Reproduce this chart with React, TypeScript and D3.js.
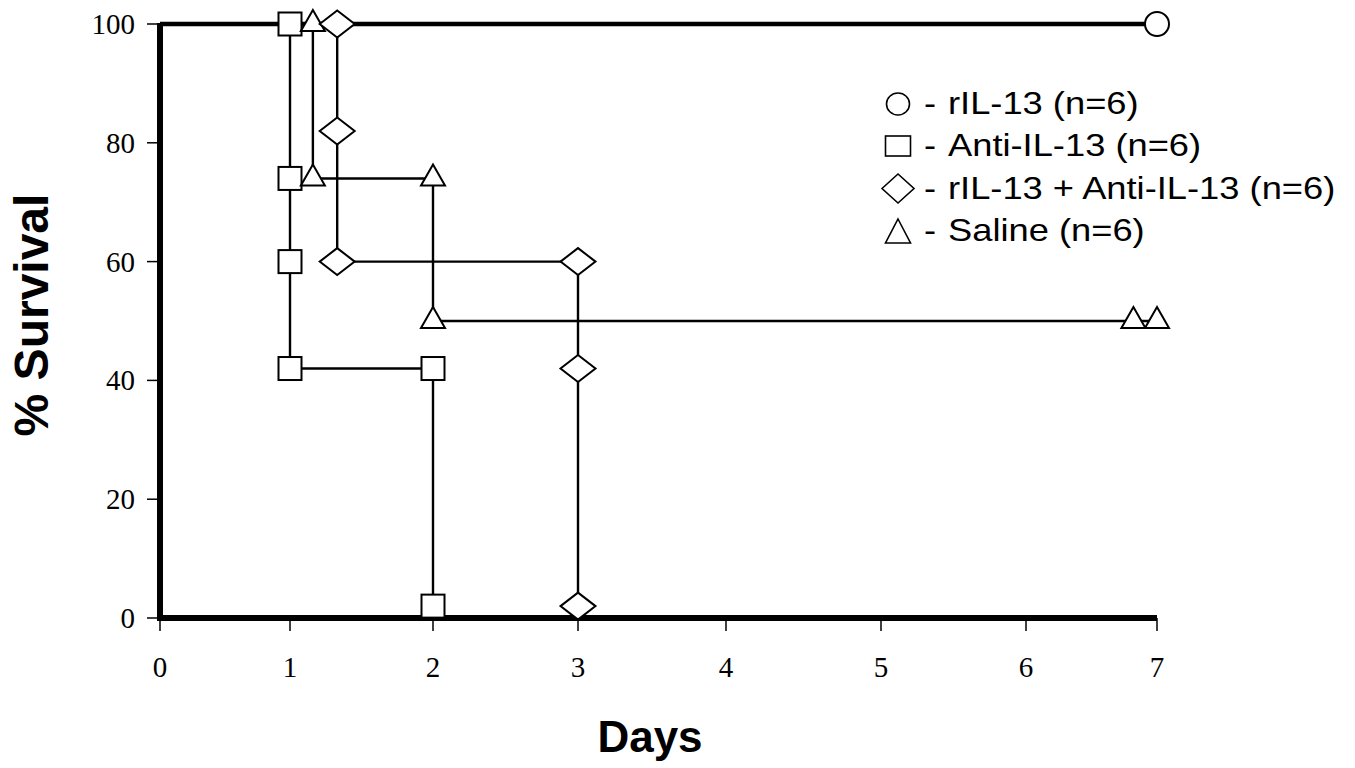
import React from 'react';
import * as d3 from 'd3';

// ---------- data ----------
const dayTicks = [0, 1, 2, 3, 4, 5, 6, 7];
const survivalTicks = [0, 20, 40, 60, 80, 100];

const seriesNames = ['rIL-13 (n=6)', 'Anti-IL-13 (n=6)', 'rIL-13 + Anti-IL-13 (n=6)', 'Saline (n=6)'];

// step-curve vertices (step-after)
const rIL13StepDays = [0, 7];
const rIL13StepSurv = [100, 100];
const rIL13MarkDays = [7];
const rIL13MarkSurv = [100];

const antiStepDays = [0, 1, 2];
const antiStepSurv = [100, 42, 2];
const antiMarkDays = [1, 1, 1, 1, 2, 2];
const antiMarkSurv = [100, 74, 60, 42, 42, 2];

const comboStepDays = [0, 1.33, 3];
const comboStepSurv = [100, 60, 2];
const comboMarkDays = [1.33, 1.33, 1.33, 3, 3, 3];
const comboMarkSurv = [100, 82, 60, 60, 42, 2];

const salineStepDays = [0, 1.16, 2, 7];
const salineStepSurv = [100, 74, 50, 50];
const salineMarkDays = [1.16, 1.16, 2, 2, 6.82, 7];
const salineMarkSurv = [100, 74, 74, 50, 50, 50];

// ---------- layout ----------
const W = 1355;
const H = 768;
const xStops = [160, 290, 433, 578, 726, 881, 1026, 1157]; // the original axis is unevenly spaced
const yTop = 24;
const yBottom = 618;

const x = d3.scaleLinear().domain(dayTicks).range(xStops);
const y = d3.scaleLinear().domain([0, 100]).range([yBottom, yTop]);

type Kind = 'circle' | 'square' | 'diamond' | 'triangle';

function Marker({ kind, cx, cy, w, h, bboxCenter = false, sw = 2 }: any) {
  const common = { fill: '#fff', stroke: '#000', strokeWidth: sw };
  if (kind === 'circle') return <ellipse cx={cx} cy={cy} rx={w / 2} ry={h / 2} {...common} />;
  if (kind === 'square') return <rect x={cx - w / 2} y={cy - h / 2} width={w} height={h} {...common} />;
  if (kind === 'diamond') {
    const p = d3.path();
    p.moveTo(cx - w / 2, cy);
    p.lineTo(cx, cy - h / 2);
    p.lineTo(cx + w / 2, cy);
    p.lineTo(cx, cy + h / 2);
    p.closePath();
    return <path d={p.toString()} {...common} />;
  }
  // triangle: centered on centroid unless bboxCenter
  const top = bboxCenter ? cy - h / 2 : cy - (2 * h) / 3;
  const base = bboxCenter ? cy + h / 2 : cy + h / 3;
  const p = d3.path();
  p.moveTo(cx, top);
  p.lineTo(cx + w / 2, base);
  p.lineTo(cx - w / 2, base);
  p.closePath();
  return <path d={p.toString()} {...common} />;
}

const stepLine = d3
  .line<[number, number]>()
  .x((d) => x(d[0]))
  .y((d) => y(d[1]))
  .curve(d3.curveStepAfter);

const zip = (a: number[], b: number[]) => a.map((v, i) => [v, b[i]] as [number, number]);

const series = [
  { kind: 'square' as Kind, step: zip(antiStepDays, antiStepSurv), marks: zip(antiMarkDays, antiMarkSurv), w: 23, h: 23, lw: 2.4 },
  { kind: 'triangle' as Kind, step: zip(salineStepDays, salineStepSurv), marks: zip(salineMarkDays, salineMarkSurv), w: 24, h: 21, lw: 2.4 },
  { kind: 'diamond' as Kind, step: zip(comboStepDays, comboStepSurv), marks: zip(comboMarkDays, comboMarkSurv), w: 35, h: 27, lw: 2.4 },
  { kind: 'circle' as Kind, step: zip(rIL13StepDays, rIL13StepSurv), marks: zip(rIL13MarkDays, rIL13MarkSurv), w: 24, h: 24, lw: 4.5 },
];

const legendKinds: Kind[] = ['circle', 'square', 'diamond', 'triangle'];
const legendSym = [
  { w: 23, h: 22 },
  { w: 25, h: 20 },
  { w: 32, h: 29 },
  { w: 25, h: 24 },
];

export default function App() {
  const sans = '"Liberation Sans", Arial, sans-serif';
  const serif = '"Liberation Serif", "Times New Roman", serif';
  const legendX = 898;
  const legendBase = [114, 156, 198.5, 241];

  return (
    <svg width={W} height={H} style={{ position: 'absolute', left: 0, top: 0, background: '#fff' }}>
      <rect x={0} y={0} width={W} height={H} fill="#fff" />

      {/* lines */}
      {series.map((s, i) => (
        <path key={'l' + i} d={stepLine(s.step) || ''} fill="none" stroke="#000" strokeWidth={s.lw} />
      ))}

      {/* axes */}
      <line x1={x(0)} x2={x(0)} y1={y(100) - 1} y2={y(0) + 3} stroke="#000" strokeWidth={6} />
      <line x1={x(0) - 3} x2={x(7)} y1={y(0)} y2={y(0)} stroke="#000" strokeWidth={6} />
      {survivalTicks.map((t) => (
        <g key={'yt' + t}>
          <line x1={x(0) - 13} x2={x(0)} y1={y(t)} y2={y(t)} stroke="#000" strokeWidth={1.5} />
          <text x={135} y={y(t) + 10} textAnchor="end" fontFamily={serif} fontSize={29} fill="#000">
            {t}
          </text>
        </g>
      ))}
      {dayTicks.map((t) => (
        <g key={'xt' + t}>
          <line x1={x(t)} x2={x(t)} y1={y(0)} y2={y(0) + 13} stroke="#000" strokeWidth={1.5} />
          <text x={x(t)} y={677} textAnchor="middle" fontFamily={serif} fontSize={29} fill="#000">
            {t}
          </text>
        </g>
      ))}

      {/* markers */}
      {series.map((s, i) => (
        <g key={'m' + i}>
          {s.marks.map((d, j) => (
            <Marker key={j} kind={s.kind} cx={x(d[0])} cy={y(d[1])} w={s.w} h={s.h} />
          ))}
        </g>
      ))}

      {/* axis titles */}
      <text
        transform={`translate(48,315) rotate(-90)`}
        textAnchor="middle"
        fontFamily={sans}
        fontWeight="bold"
        fontSize={48}
        fill="#000"
      >
        % Survival
      </text>
      <text x={650} y={752} textAnchor="middle" fontFamily={sans} fontWeight="bold" fontSize={44} fill="#000">
        Days
      </text>

      {/* legend */}
      {seriesNames.map((name, i) => (
        <g key={'lg' + i}>
          <Marker
            kind={legendKinds[i]}
            cx={legendX}
            cy={legendBase[i] - 10}
            w={legendSym[i].w}
            h={legendSym[i].h}
            bboxCenter
            sw={1.6}
          />
          <text transform={`translate(924,${legendBase[i]}) scale(1.19,1)`} fontFamily={sans} fontSize={30.5} fill="#000">
            -
          </text>
          <text transform={`translate(948,${legendBase[i]}) scale(1.19,1)`} fontFamily={sans} fontSize={30.5} fill="#000">
            {name}
          </text>
        </g>
      ))}
    </svg>
  );
}
